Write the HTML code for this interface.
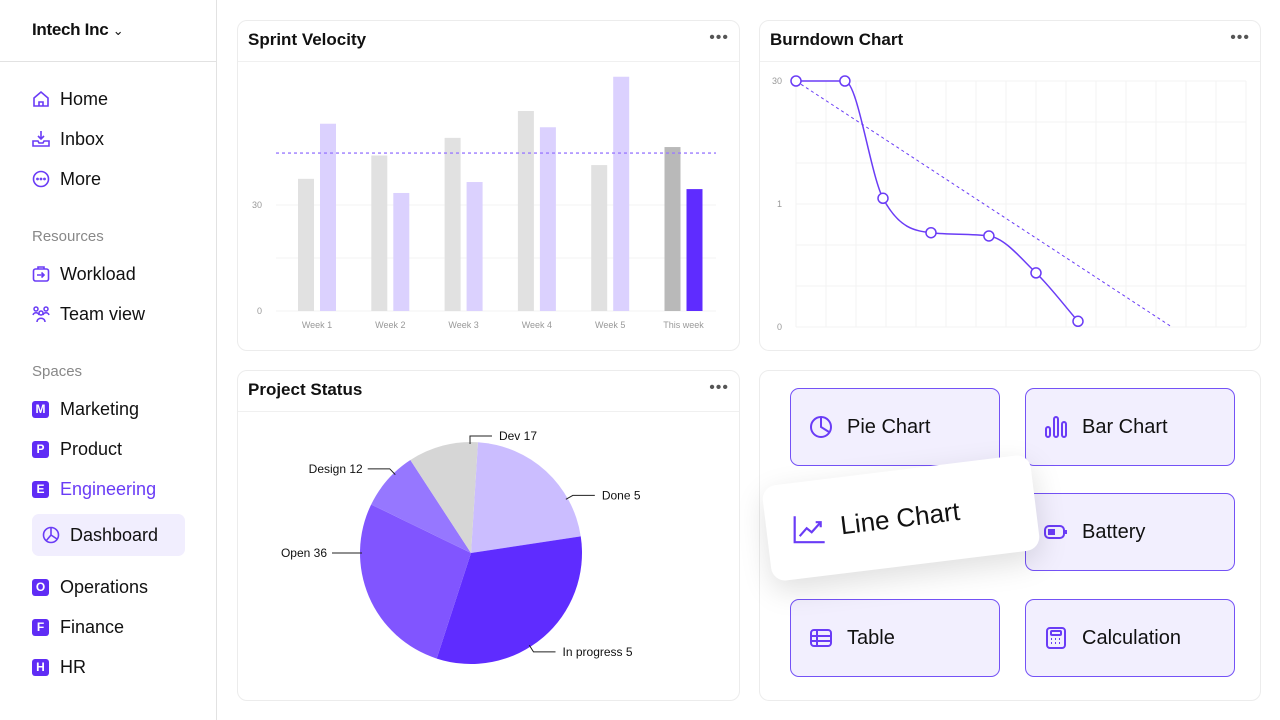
<!DOCTYPE html>
<html><head><meta charset="utf-8">
<style>
*{box-sizing:border-box;margin:0;padding:0}
body{width:1280px;height:720px;overflow:hidden;background:#fff;font-family:"Liberation Sans","Noto Sans CJK JP",sans-serif;color:#111;position:relative}
.abs{position:absolute}
.side{left:0;top:0;width:217px;height:720px;border-right:1px solid #e2e2e2}
.brand{left:32px;top:20px;font-size:17px;font-weight:bold;letter-spacing:-0.3px}
.hdr{left:0;top:61px;width:216px;height:1px;background:#e2e2e2}
.item{left:32px;font-size:18px;display:flex;align-items:center;height:24px}
.item svg{width:18px;height:18px;margin-right:10px}
.sec{left:32px;font-size:15px;color:#888}
.badge{width:17px;height:17px;background:#5f2cf5;color:#fff;font-size:12px;border-radius:3px;display:inline-flex;align-items:center;justify-content:center;margin-right:11px;font-weight:bold}
.card{background:#fff;border:1px solid #ececec;border-radius:10px}
.ctitle{font-size:17px;font-weight:bold;position:absolute;left:10px;top:9px}
.cline{position:absolute;left:0;right:0;top:40px;height:1px;background:#f0f0f0}
.dots{position:absolute;right:10px;top:8px;font-size:16px;color:#555;letter-spacing:1px}
.btn{background:#f2effe;border:1.5px solid #7452f6;border-radius:9px;display:flex;align-items:center;font-size:20px;padding-left:18px}
.btn svg{width:24px;height:24px;margin-right:14px}
</style></head><body>
<div class="abs side"></div>
<div class="abs brand">Intech Inc <span style="font-weight:normal;font-size:13px">&#8964;</span></div>
<div class="abs hdr"></div>

<div class="abs item" style="top:87px"><svg viewBox="0 0 18 18" fill="none" stroke="#6a3cf6" stroke-width="1.6"><path d="M2 8L9 2l7 6v8H2z"/><path d="M7 16v-4h4v4"/></svg>Home</div>
<div class="abs item" style="top:127px"><svg viewBox="0 0 18 18" fill="none" stroke="#6a3cf6" stroke-width="1.6"><path d="M9 1v8M6 6l3 3 3-3"/><path d="M1 11h5l1 2h4l1-2h5v5H1z"/></svg>Inbox</div>
<div class="abs item" style="top:167px"><svg viewBox="0 0 18 18" fill="none" stroke="#6a3cf6" stroke-width="1.6"><circle cx="9" cy="9" r="7.5"/><circle cx="5.5" cy="9" r=".6"/><circle cx="9" cy="9" r=".6"/><circle cx="12.5" cy="9" r=".6"/></svg>More</div>
<div class="abs sec" style="top:228px">Resources</div>
<div class="abs item" style="top:262px"><svg viewBox="0 0 18 18" fill="none" stroke="#6a3cf6" stroke-width="1.6"><rect x="1.5" y="4" width="15" height="12" rx="2"/><path d="M6 4V2h6v2M5 10h7M9.5 7.5L12 10l-2.5 2.5"/></svg>Workload</div>
<div class="abs item" style="top:302px"><svg viewBox="0 0 18 18" fill="none" stroke="#6a3cf6" stroke-width="1.5"><circle cx="4" cy="4" r="2"/><circle cx="14" cy="4" r="2"/><circle cx="9" cy="8" r="2"/><path d="M1 10c1-3 5-3 6 0M11 10c1-3 5-3 6 0M5 17c0-5 8-5 8 0"/></svg>Team view</div>
<div class="abs sec" style="top:363px">Spaces</div>
<div class="abs item" style="top:397px"><span class="badge">M</span>Marketing</div>
<div class="abs item" style="top:437px"><span class="badge">P</span>Product</div>
<div class="abs item" style="top:477px;color:#6a3cf6"><span class="badge">E</span>Engineering</div>
<div class="abs" style="left:32px;top:514px;width:153px;height:42px;background:#f1eefe;border-radius:7px"></div>
<div class="abs item" style="top:523px;left:42px"><svg viewBox="0 0 18 18" fill="none" stroke="#6a3cf6" stroke-width="1.6"><circle cx="9" cy="9" r="7.5"/><path d="M9 1.5V9l6 4M9 9L4 15"/></svg>Dashboard</div>
<div class="abs item" style="top:575px"><span class="badge">O</span>Operations</div>
<div class="abs item" style="top:615px"><span class="badge">F</span>Finance</div>
<div class="abs item" style="top:655px"><span class="badge">H</span>HR</div>

<div class="abs card" style="left:237px;top:20px;width:503px;height:331px">
<div class="ctitle">Sprint Velocity</div><div class="dots">•••</div><div class="cline"></div></div>
<div class="abs card" style="left:759px;top:20px;width:502px;height:331px">
<div class="ctitle">Burndown Chart</div><div class="dots">•••</div><div class="cline"></div></div>
<div class="abs card" style="left:237px;top:370px;width:503px;height:331px">
<div class="ctitle">Project Status</div><div class="dots">•••</div><div class="cline"></div></div>
<div class="abs card" style="left:759px;top:370px;width:502px;height:331px"></div>

<div class="abs btn" style="left:790px;top:388px;width:210px;height:78px"><svg viewBox="0 0 24 24" fill="none" stroke="#6a3cf6" stroke-width="2"><circle cx="12" cy="12" r="10"/><path d="M12 2v10l8 5"/></svg>Pie Chart</div>
<div class="abs btn" style="left:1025px;top:388px;width:210px;height:78px"><svg viewBox="0 0 24 24" fill="none" stroke="#6a3cf6" stroke-width="2"><rect x="2" y="12" width="4" height="10" rx="2"/><rect x="10" y="2" width="4" height="20" rx="2"/><rect x="18" y="7" width="4" height="15" rx="2"/></svg>Bar Chart</div>
<div class="abs btn" style="left:1025px;top:493px;width:210px;height:78px"><svg viewBox="0 0 24 24" fill="none" stroke="#6a3cf6" stroke-width="2"><rect x="1" y="6" width="19" height="12" rx="4"/><rect x="5" y="10" width="5" height="4" fill="#6a3cf6"/><path d="M22 10v4"/></svg>Battery</div>
<div class="abs btn" style="left:790px;top:599px;width:210px;height:78px"><svg viewBox="0 0 24 24" fill="none" stroke="#6a3cf6" stroke-width="2"><rect x="2" y="4" width="20" height="16" rx="3"/><path d="M2 10h20M2 15h20M8 4v16"/></svg>Table</div>
<div class="abs btn" style="left:1025px;top:599px;width:210px;height:78px"><svg viewBox="0 0 24 24" fill="none" stroke="#6a3cf6" stroke-width="2"><rect x="3" y="2" width="18" height="20" rx="3"/><rect x="7" y="5" width="10" height="4" rx="1"/><path d="M7 13h1M11 13h1M15 13h1M7 17h1M11 17h1M15 17h1"/></svg>Calculation</div>
<div class="abs" style="left:766px;top:470px;width:270px;height:96px;background:#fff;border-radius:14px;box-shadow:0 10px 30px rgba(0,0,0,.13);transform:rotate(-7deg);display:flex;align-items:center;padding-left:26px;font-size:26px"><svg viewBox="0 0 34 34" width="34" height="34" fill="none" stroke="#6a3cf6" stroke-width="2.2" style="margin-right:14px;transform:rotate(7deg)"><path d="M2 4v26h30M7 24l7-8 5 4 9-10M23 10h5v5"/></svg>Line Chart</div>

<svg class="abs" style="left:0;top:0" width="1280" height="720" id="charts"></svg>

<script>
// Sprint velocity data
const weeks=["Week 1","Week 2","Week 3","Week 4","Week 5","This week"];
const committed=[37.4,44,49,56.6,41.3,46.4];
const completed=[53,33.4,36.5,52,66.3,34.5];
const avgVelocity=[44.7];
const velTickVals=[0,15,30];
const velTickLabels=["0","","30"];
// Burndown data
const bdDays=[0,1.63,2.9,4.5,6.43,8,9.4];
const bdRemaining=[30,30,15.7,11.5,11.1,6.6,0.7];
const idealDays=[0,12.53];
const idealRemaining=[30,0];
const bdTickVals=[30,15,0];
const bdTickLabels=["30","1","0"];
// Pie data
const statusNames=["Done","In progress","Open","Design","Dev"];
const statusShare=[21.6,32.4,27.2,8.6,10.2];
const statusLabels=["Done 5","In progress 5","Open 36","Design 12","Dev 17"];
const labelAngles=[-29.5,57.7,180,226,-90.5];

const NS="http://www.w3.org/2000/svg";
const svg=document.getElementById('charts');
function mk(t,a,p){const e=document.createElementNS(NS,t);for(const k in a)e.setAttribute(k,a[k]);(p||svg).appendChild(e);return e;}

// ---- bar chart
const vy=v=>311-v*106/30;
const gx=i=>276+i*73.3;
velTickVals.forEach((v,i)=>{
  const l=mk('line',{x1:276,x2:716,y1:vy(v),y2:vy(v),stroke:'#f3f3f3','stroke-width':1});
  
  if(velTickLabels[i]){const t=mk('text',{x:262,y:vy(v)+3,'font-size':9,fill:'#999','text-anchor':'end'});t.textContent=velTickLabels[i];
  }
});
weeks.forEach((w,i)=>{
  const last=i===weeks.length-1;
  const b1=mk('rect',{x:gx(i)+22,y:vy(committed[i]),width:16,height:vy(0)-vy(committed[i]),fill:last?'#b9b9b9':'#e1e1e1'});
  
  const b2=mk('rect',{x:gx(i)+44,y:vy(completed[i]),width:16,height:vy(0)-vy(completed[i]),fill:last?'#5f2cff':'#dbd1fe'});
  
  const t=mk('text',{x:gx(i)+41,y:328,'font-size':9,fill:'#999','text-anchor':'middle'});t.textContent=w;
  
});
const av=mk('line',{x1:276,x2:716,y1:vy(avgVelocity[0]),y2:vy(avgVelocity[0]),stroke:'#9b7bff','stroke-width':1.3,'stroke-dasharray':'3 3'});


// ---- burndown
const bx=d=>796+d*30;
const by=v=>327-v*246/30;
for(let i=0;i<=15;i++){const l=mk('line',{x1:bx(i),x2:bx(i),y1:81,y2:327,stroke:'#f3f3f3','stroke-width':1});
  }
for(let j=0;j<=6;j++){const y=81+j*41;const l=mk('line',{x1:796,x2:1246,y1:y,y2:y,stroke:'#f3f3f3','stroke-width':1});
  }
bdTickVals.forEach((v,i)=>{const t=mk('text',{x:782,y:by(v)+3,'font-size':9,fill:'#999','text-anchor':'end'});t.textContent=bdTickLabels[i];
  });
const il=mk('line',{x1:bx(idealDays[0]),y1:by(idealRemaining[0]),x2:bx(idealDays[1]),y2:by(idealRemaining[1]),stroke:'#6a3cf6','stroke-width':1,'stroke-dasharray':'3 3'});

const P=bdDays.map((d,i)=>[bx(d),by(bdRemaining[i])]);
// monotone cubic
const n=P.length,dk=[],m=[];
for(let i=0;i<n-1;i++)dk.push((P[i+1][1]-P[i][1])/(P[i+1][0]-P[i][0]));
for(let i=0;i<n;i++){
  if(i===0)m.push(dk[0]);else if(i===n-1)m.push(dk[n-2]);
  else m.push(dk[i-1]*dk[i]<=0?0:(dk[i-1]+dk[i])/2);
}
for(let i=0;i<n-1;i++){if(dk[i]===0){m[i]=0;m[i+1]=0;continue;}const a=m[i]/dk[i],b=m[i+1]/dk[i],s=a*a+b*b;if(s>9){const t=3/Math.sqrt(s);m[i]=t*a*dk[i];m[i+1]=t*b*dk[i];}}
let d='M'+P[0][0]+','+P[0][1];
for(let i=0;i<n-1;i++){const h=(P[i+1][0]-P[i][0])/3;
  d+=` C${P[i][0]+h},${P[i][1]+m[i]*h} ${P[i+1][0]-h},${P[i+1][1]-m[i+1]*h} ${P[i+1][0]},${P[i+1][1]}`;}
const ln=mk('path',{d:d,fill:'none',stroke:'#6a3cf6','stroke-width':1.5});

P.forEach(p=>{const c=mk('circle',{cx:p[0],cy:p[1],r:5,fill:'#fff',stroke:'#6a3cf6','stroke-width':1.5});
  });

// ---- pie
const cx=471,cy=553,R=111;
const cols=['#cbbdff','#5f2cff','#8155ff','#9677ff','#d6d6d6'];
const total=statusShare.reduce((a,b)=>a+b,0);
let a0=-86.4;
statusShare.forEach((v,i)=>{
  const a1=a0+v/total*360;const r0=a0*Math.PI/180,r1=a1*Math.PI/180;
  const s=mk('path',{d:`M${cx},${cy} L${cx+R*Math.cos(r0)},${cy+R*Math.sin(r0)} A${R},${R} 0 ${a1-a0>180?1:0} 1 ${cx+R*Math.cos(r1)},${cy+R*Math.sin(r1)} Z`,fill:cols[i]});
  
  a0=a1;
});
statusLabels.forEach((lab,i)=>{
  const am=labelAngles[i]*Math.PI/180;const ex=cx+(R-2)*Math.cos(am),ey=cy+(R-2)*Math.sin(am);
  const right=Math.cos(am)>=-0.05;const ox=cx+(R+6)*Math.cos(am),oy=cy+(R+6)*Math.sin(am);
  const hx=right?ox+22:ox-22;
  const l=mk('polyline',{points:`${ex},${ey} ${ox},${oy} ${hx},${oy}`,fill:'none',stroke:'#222','stroke-width':1});
  
  const t=mk('text',{x:right?hx+7:hx-5,y:oy+4,'font-size':12,fill:'#111','text-anchor':right?'start':'end'});t.textContent=lab;
  
});
</script>
</body></html>
